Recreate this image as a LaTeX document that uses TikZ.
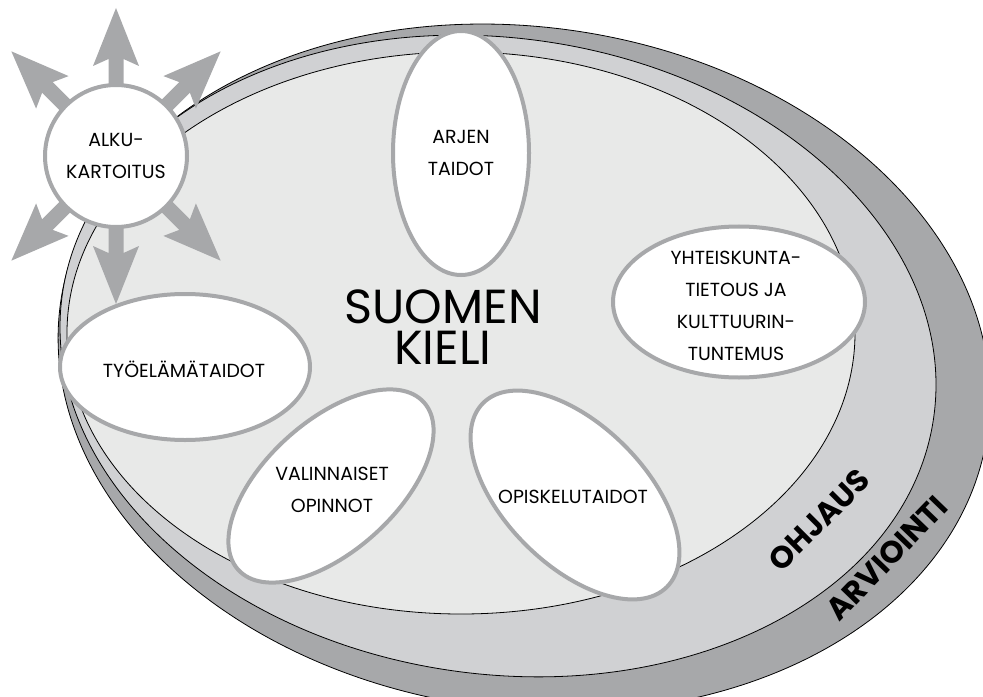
\documentclass[tikz,border=0pt]{standalone}
\usepackage{fontspec}
\setmainfont{Poppins}
\usetikzlibrary{shapes.geometric}
\definecolor{ringdark}{HTML}{A7A8AA}
\definecolor{ringmid}{HTML}{D0D1D3}
\definecolor{ringlight}{HTML}{E8E9E8}
\tikzset{ring/.style={ellipse, draw=black, line width=0.8bp, inner sep=0pt},
petal/.style={ellipse, fill=white, draw=ringdark, line width=4bp, inner sep=0pt},
txt/.style={font=\fontsize{19}{32}\selectfont, align=center, inner sep=0pt},
big/.style={font=\fontsize{48}{41}\selectfont, align=center, inner sep=0pt},
band/.style={font=\bfseries\fontsize{31}{31}\selectfont, inner sep=0pt},
ray/.style={fill=ringdark}}

\begin{document}
\begin{tikzpicture}[x=1bp, y=-1bp]
  \useasboundingbox (0,0) rectangle (983,697);
  \node [ring, fill=ringdark, minimum width=936bp, minimum height=682bp, rotate=-8] (arv) at (524,368) {};
  \node [ring, fill=ringmid, minimum width=880bp, minimum height=636bp, rotate=-8] (ohj) at (498,356) {};
  \node [ring, fill=ringlight, minimum width=788bp, minimum height=562bp] (suo) at (461,333) {};
  \node [band, rotate=45] (ohjt) at (819,520) {OHJAUS};
  \node [band, rotate=46] (arvt) at (887,558) {ARVIOINTI};
  \node [big] (kieli) at (443,327) {SUOMEN\\KIELI};

  \coordinate (ak) at (116,156);
  \foreach \a in {45,90,135,225,270,315}
    \fill [ray, shift={(ak)}, rotate=\a] (0,-7.5) -- (97,-7.5) -- (90,-23) -- (148,0)
      -- (90,23) -- (97,7.5) -- (0,7.5) -- cycle;
  \node [circle, fill=white, draw=ringdark, line width=4bp, minimum size=142bp] (alku) at (ak) {};
  \node [txt] (alkut) at (alku) {ALKU-\\KARTOITUS};

  \node [petal, minimum width=136bp, minimum height=244bp] (arjen) at (461,153) {};
  \node [petal, minimum width=252bp, minimum height=151bp] (yht) at (739,302) {};
  \node [petal, minimum width=250bp, minimum height=146bp] (tyo) at (185,367) {};
  \node [petal, minimum width=250bp, minimum height=130bp, rotate=42] (val) at (331,486) {};
  \node [petal, minimum width=260bp, minimum height=140bp, rotate=-45] (opi) at (575,495) {};
  \node [txt] (arjent) at (arjen) {ARJEN\\TAIDOT};
  \node [txt] (yhtt) at (736,306) {YHTEISKUNTA-\\TIETOUS JA\\KULTTUURIN-\\TUNTEMUS};
  \node [txt, anchor=base] (tyot) at (184,377) {TYÖELÄMÄTAIDOT};
  \node [txt] (valt) at (332,490) {VALINNAISET\\OPINNOT};
  \node [txt] (opit) at (573,497) {OPISKELUTAIDOT};
\end{tikzpicture}
\end{document}
